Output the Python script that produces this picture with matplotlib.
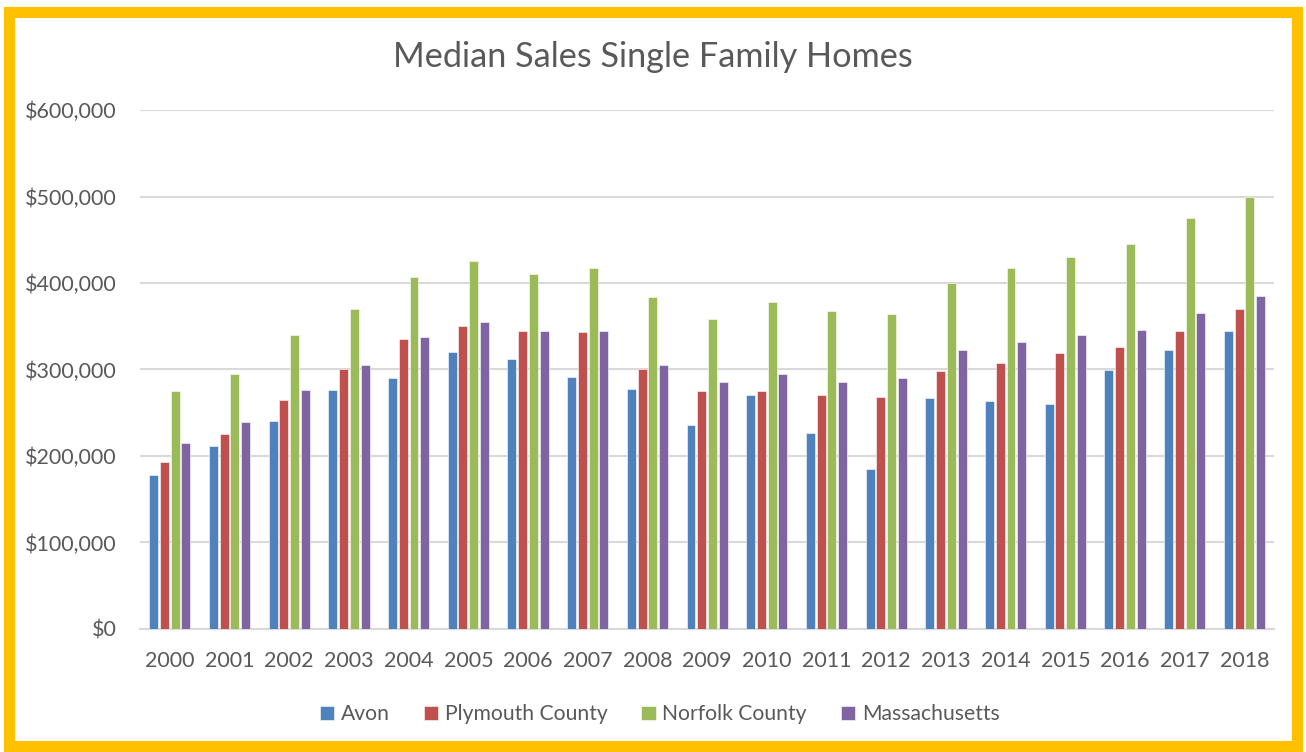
import matplotlib.pyplot as plt
import matplotlib.ticker as mticker
from matplotlib.patches import Rectangle
import numpy as np

years = [str(y) for y in range(2000, 2019)]
avon = [178000, 212000, 241000, 276000, 290000, 320000, 312000, 291000, 277000, 236000,
        270000, 227000, 185000, 267000, 264000, 260000, 299000, 323000, 344000]
plymouth = [193000, 225000, 265000, 300000, 335000, 350000, 345000, 343000, 300000, 275000,
            275000, 270000, 268000, 298000, 308000, 319000, 326000, 345000, 370000]
norfolk = [275000, 295000, 340000, 370000, 407000, 425000, 410000, 417000, 384000, 358000,
           378000, 368000, 364000, 400000, 417000, 430000, 445000, 475000, 500000]
mass = [215000, 239000, 276000, 305000, 337000, 355000, 345000, 345000, 305000, 285000,
        295000, 285000, 290000, 322000, 332000, 340000, 346000, 365000, 385000]

series = [('Avon', avon, '#4F81BD'),
          ('Plymouth County', plymouth, '#C0504D'),
          ('Norfolk County', norfolk, '#9BBB59'),
          ('Massachusetts', mass, '#8064A2')]

plt.rcParams['font.family'] = ['Lato', 'DejaVu Sans']
text_color = '#595959'

fig = plt.figure(figsize=(13.06, 7.52), dpi=100)
ax = fig.add_axes([0.1072, 0.1636, 0.8685, 0.6901])

x = np.arange(len(years))
slot = 0.18
width = 0.15
for i, (name, vals, color) in enumerate(series):
    ax.bar(x + (i - 1.5) * slot, vals, width, color=color, label=name,
           edgecolor='white', linewidth=0.4, zorder=3)

ax.set_xlim(-0.5, len(years) - 0.5)
ax.set_ylim(0, 600000)
ax.yaxis.set_major_locator(mticker.MultipleLocator(100000))
ax.yaxis.set_major_formatter(mticker.FuncFormatter(lambda v, p: '${:,.0f}'.format(v)))
ax.set_xticks(x)
ax.set_xticklabels(years)
ax.grid(axis='y', color='#D9D9D9', linewidth=1.5, zorder=0)
for s in ['top', 'right', 'left']:
    ax.spines[s].set_visible(False)
ax.spines['bottom'].set_color('#D9D9D9')
ax.spines['bottom'].set_linewidth(1.5)
ax.tick_params(axis='both', length=0, labelsize=15.5, labelcolor=text_color)
ax.tick_params(axis='y', pad=17)
ax.tick_params(axis='x', pad=16)

fig.text(0.5, 0.924, 'Median Sales Single Family Homes', ha='center', va='center',
         fontsize=24.7, color=text_color)

fig.legend(loc='center', bbox_to_anchor=(0.505, 0.05), ncol=4, frameon=False,
           fontsize=15.2, labelcolor=text_color, handlelength=0.7, handleheight=0.7,
           handletextpad=0.3, columnspacing=1.6)

fig.patches.append(Rectangle((9 / 1306, 6 / 752), 1288 / 1306, 734 / 752,
                             transform=fig.transFigure, fill=False,
                             edgecolor='#FFC000', linewidth=8))

fig.savefig('out.png', dpi=100)
